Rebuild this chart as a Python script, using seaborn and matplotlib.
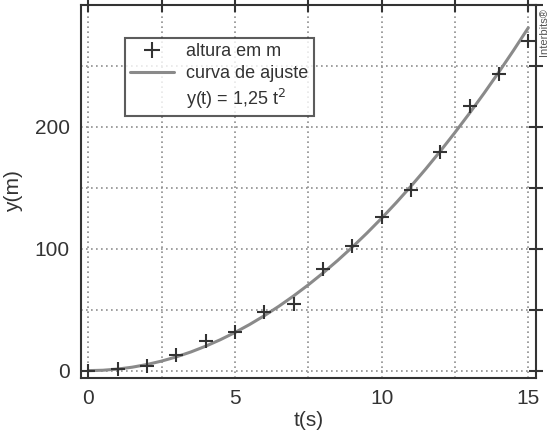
import matplotlib
matplotlib.use("Agg")
import matplotlib.pyplot as plt
import seaborn as sns
import pandas as pd
from matplotlib.lines import Line2D
from matplotlib.ticker import MultipleLocator, FixedLocator

t_meas = [0, 1, 2, 3, 4, 5, 6, 7, 8, 9, 10, 11, 12, 13, 14, 15]
h_meas = [0, 1, 4, 13, 24, 32, 48, 55, 83, 102, 126, 148, 179, 217, 243, 270]

# fitted curve y(t) = 1,25 t^2, sampled every half second
t_fit = [0, 0.5, 1, 1.5, 2, 2.5, 3, 3.5, 4, 4.5, 5, 5.5, 6, 6.5, 7, 7.5,
         8, 8.5, 9, 9.5, 10, 10.5, 11, 11.5, 12, 12.5, 13, 13.5, 14, 14.5, 15]
h_fit = [0, 0.31, 1.25, 2.81, 5, 7.81, 11.25, 15.31, 20, 25.31, 31.25, 37.81,
         45, 52.81, 61.25, 70.31, 80, 90.31, 101.25, 112.81, 125, 137.81,
         151.25, 165.31, 180, 195.31, 211.25, 227.81, 245, 262.81, 281.25]

x_ticks = [0, 5, 10, 15]
y_ticks = [0, 100, 200]
labels = ["altura em m", "curva de ajuste", "y(t) = 1,25 t$^{2}$"]

sns.set_style("white")
plt.rcParams['font.family'] = ['Liberation Sans', 'DejaVu Sans']
dark = "#333333"

meas = pd.DataFrame({"t": t_meas, "h": h_meas})
fit = pd.DataFrame({"t": t_fit, "h": h_fit})

fig = plt.figure(figsize=(5.5, 4.41), dpi=100)
ax = fig.add_axes([0.147, 0.143, 0.828, 0.846])

sns.lineplot(data=fit, x="t", y="h", color="#8a8a8a", lw=2.2, ax=ax)
sns.scatterplot(data=meas, x="t", y="h", marker="+", s=110, color=dark,
                linewidth=1.5, ax=ax, zorder=3)

ax.set_xlim(-0.25, 15.27)
ax.set_ylim(-6, 300)
ax.xaxis.set_major_locator(FixedLocator(x_ticks))
ax.xaxis.set_minor_locator(MultipleLocator(2.5))
ax.yaxis.set_major_locator(FixedLocator(y_ticks))
ax.yaxis.set_minor_locator(MultipleLocator(50))
ax.grid(True, which="both", ls=(0, (1, 2)), color="#8f8f8f", lw=1.2)
ax.tick_params(which="both", direction="inout", length=10, width=1.5,
               color=dark, labelsize=15, labelcolor=dark,
               top=True, right=True)
ax.tick_params(which="both", labeltop=False, labelright=False, pad=3)
for sp in ax.spines.values():
    sp.set_color(dark)
    sp.set_linewidth(1.5)

ax.set_xlabel("t(s)", fontsize=15, color=dark, labelpad=2)
ax.set_ylabel("y(m)", fontsize=15, color=dark, labelpad=8)

handles = [
    Line2D([], [], marker="+", ls="none", color=dark, markersize=11, mew=1.5),
    Line2D([], [], color="#8a8a8a", lw=2.2),
    Line2D([], [], ls="none"),
]
leg = ax.legend(handles, labels, loc="upper left", bbox_to_anchor=(0.097, 0.911),
                fontsize=13, frameon=True, fancybox=False, handlelength=2.4,
                borderpad=0.3, labelspacing=0.25, handletextpad=0.7,
                borderaxespad=0)
leg.get_frame().set_edgecolor(dark)
leg.get_frame().set_linewidth(1.5)
for txt in leg.get_texts():
    txt.set_color(dark)

fig.text(0.999, 0.982, "Interbits®", rotation=90, ha="right", va="top",
         fontsize=8, color="#555555")

fig.savefig("out.png", dpi=100)
